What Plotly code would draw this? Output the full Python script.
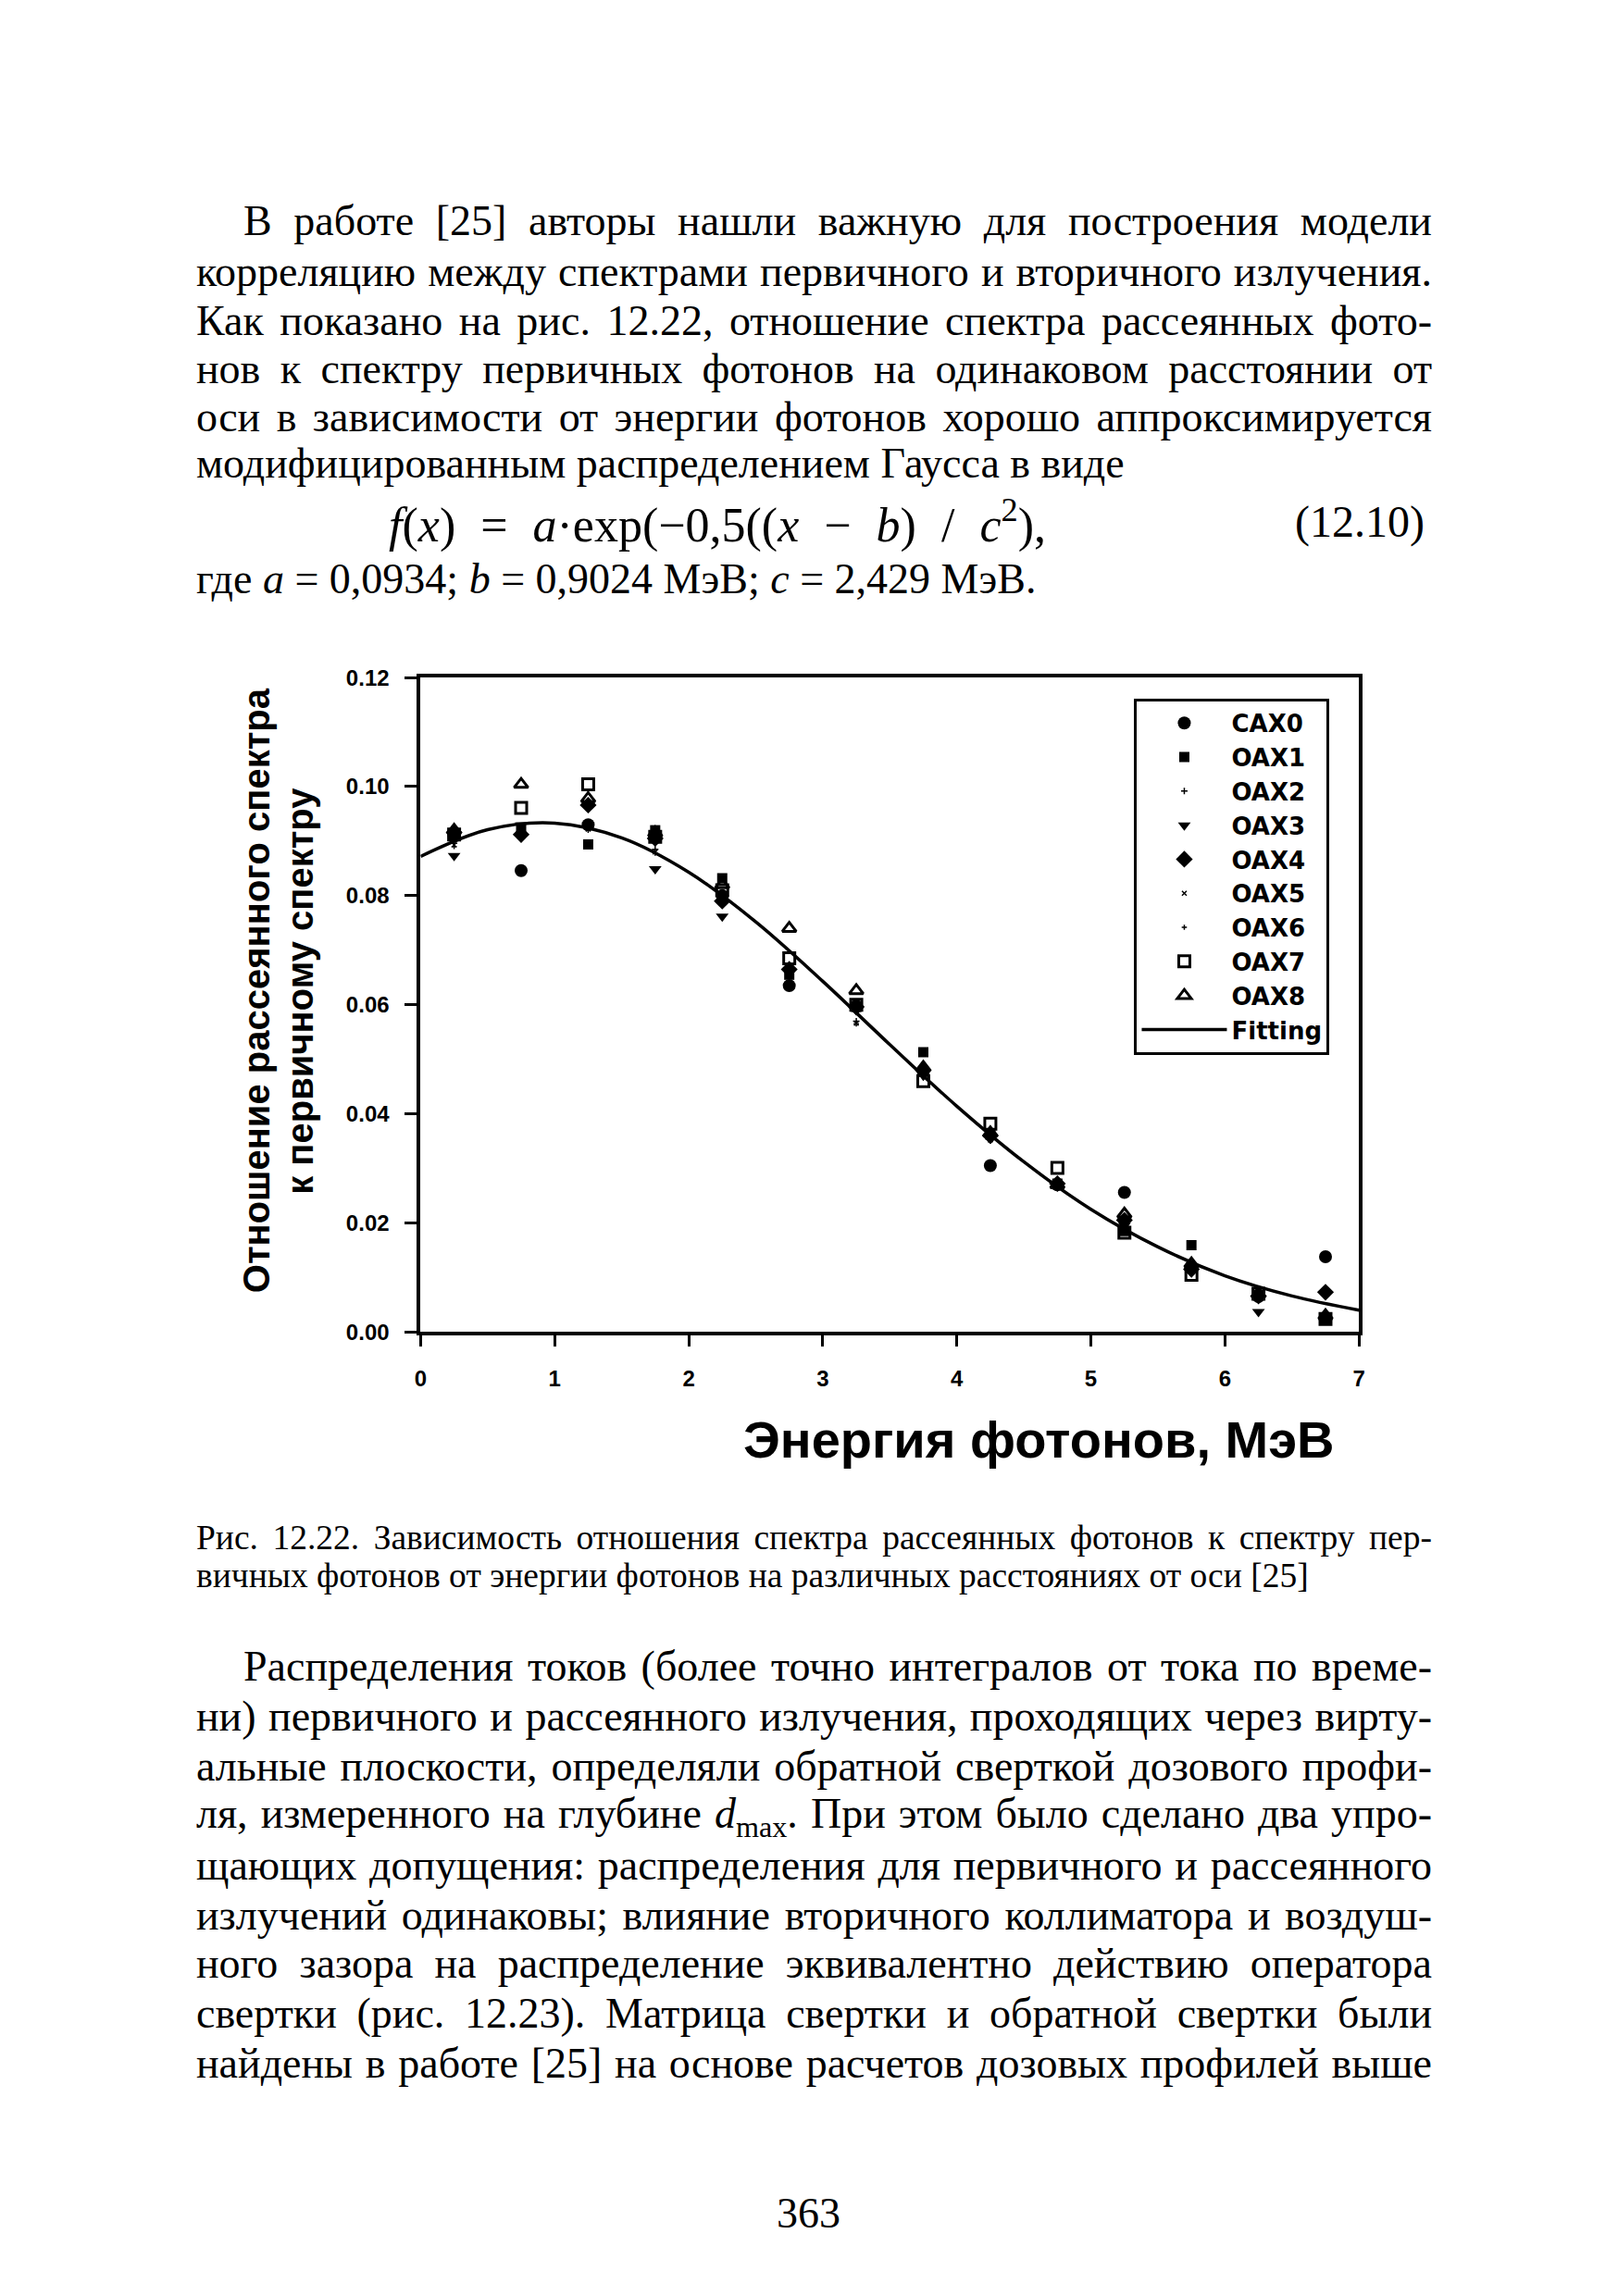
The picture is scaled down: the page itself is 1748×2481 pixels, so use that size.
import json
import plotly.graph_objects as go

W, H = 1748, 2481

# ---------------- data ----------------
energy = [0.25, 0.75, 1.25, 1.75, 2.25, 2.75, 3.25, 3.75, 4.25, 4.75, 5.25, 5.75, 6.25, 6.75]

cax0 = [0.0910, 0.0846, 0.0930, 0.0912, 0.0800, 0.0635, 0.0598, 0.0478, 0.0305, 0.0270, 0.0256, 0.0120, 0.0065, 0.0138]
oax1 = [0.0912, 0.0925, 0.0894, 0.0920, 0.0832, 0.0655, 0.0596, 0.0513, 0.0362, 0.0272, 0.0185, 0.0159, 0.0068, 0.0025]
oax2 = [0.0896, 0.0925, 0.0925, 0.0885, 0.0795, 0.0670, 0.0570, 0.0475, 0.0355, 0.0268, 0.0200, 0.0125, 0.0068, 0.0035]
oax3 = [0.0873, 0.0929, 0.0929, 0.0849, 0.0762, 0.0660, 0.0590, 0.0470, 0.0360, 0.0270, 0.0195, 0.0110, 0.0037, 0.0028]
oax4 = [0.0916, 0.0912, 0.0966, 0.0905, 0.0790, 0.0665, 0.0596, 0.0480, 0.0360, 0.0272, 0.0205, 0.0115, 0.0066, 0.0073]
oax5 = [0.0893, 0.0920, 0.0922, 0.0880, 0.0790, 0.0668, 0.0566, 0.0472, 0.0352, 0.0266, 0.0198, 0.0122, 0.0066, 0.0033]
oax6 = [0.0890, 0.0918, 0.0920, 0.0878, 0.0788, 0.0665, 0.0565, 0.0470, 0.0350, 0.0265, 0.0196, 0.0120, 0.0064, 0.0032]
oax7 = [0.0912, 0.0961, 0.1004, 0.0908, 0.0810, 0.0685, 0.0600, 0.0460, 0.0382, 0.0301, 0.0182, 0.0105, 0.0070, 0.0024]
oax8 = [0.0920, 0.1004, 0.0978, 0.0915, 0.0820, 0.0740, 0.0626, 0.0485, 0.0365, 0.0270, 0.0216, 0.0125, 0.0070, 0.0030]

fit_x = [0.0, 0.5, 1.0, 1.5, 2.0, 2.5, 3.0, 3.5, 4.0, 4.5, 5.0, 5.5, 6.0, 6.5, 7.0]
fit_y = [0.0872, 0.0921, 0.0933, 0.0906, 0.0843, 0.0752, 0.0643, 0.0527, 0.0414, 0.0312, 0.0225, 0.0156, 0.0103, 0.0066, 0.0040]

series_names = ["CAX0", "OAX1", "OAX2", "OAX3", "OAX4", "OAX5", "OAX6", "OAX7", "OAX8"]
series_values = [cax0, oax1, oax2, oax3, oax4, oax5, oax6, oax7, oax8]

x_ticks = [0, 1, 2, 3, 4, 5, 6, 7]
y_ticks = [0.00, 0.02, 0.04, 0.06, 0.08, 0.10, 0.12]

x_title = "Энергия фотонов, МэВ"
y_title_lines = ["Отношение рассеянного спектра", "к первичному спектру"]

para1 = [
    "В работе [25] авторы нашли важную для построения модели",
    "корреляцию между спектрами первичного и вторичного излучения.",
    "Как показано на рис. 12.22, отношение спектра рассеянных фото-",
    "нов к спектру первичных фотонов на одинаковом расстоянии от",
    "оси в зависимости от энергии фотонов хорошо аппроксимируется",
    "модифицированным распределением Гаусса в виде",
]
formula = "<i>f</i>(<i>x</i>) = <i>a</i>·exp(−0,5((<i>x</i> − <i>b</i>) / <i>c</i><sup>2</sup>),"
formula_no = "(12.10)"
where_line = "где <i>a</i> = 0,0934; <i>b</i> = 0,9024 МэВ; <i>c</i> = 2,429 МэВ."
caption = [
    "Рис. 12.22. Зависимость отношения спектра рассеянных фотонов к спектру пер-",
    "вичных фотонов от энергии фотонов на различных расстояниях от оси [25]",
]
para2 = [
    "Распределения токов (более точно интегралов от тока по време-",
    "ни) первичного и рассеянного излучения, проходящих через вирту-",
    "альные плоскости, определяли обратной сверткой дозового профи-",
    "ля, измеренного на глубине <i>d</i><sub>max</sub>. При этом было сделано два упро-",
    "щающих допущения: распределения для первичного и рассеянного",
    "излучений одинаковы; влияние вторичного коллиматора и воздуш-",
    "ного зазора на распределение эквивалентно действию оператора",
    "свертки (рис. 12.23). Матрица свертки и обратной свертки были",
    "найдены в работе [25] на основе расчетов дозовых профилей выше",
]
page_number = "363"

# ---------------- styles ----------------
SERIF = "Liberation Serif, Times New Roman, serif"
SANS = "Liberation Sans, Arial, sans-serif"
LEGF = "DejaVu Sans, Verdana, sans-serif"

marker_styles = {
    "CAX0": dict(symbol="circle", size=14, color="black"),
    "OAX1": dict(symbol="square", size=11, color="black"),
    "OAX2": dict(symbol="cross-thin", size=5, color="black", line=dict(width=1.5, color="black")),
    "OAX3": dict(symbol="triangle-down", size=12, color="black"),
    "OAX4": dict(symbol="diamond", size=14, color="black"),
    "OAX5": dict(symbol="x-thin", size=5, color="black", line=dict(width=1.5, color="black")),
    "OAX6": dict(symbol="cross-thin", size=4, color="black", line=dict(width=1.5, color="black")),
    "OAX7": dict(symbol="square-open", size=12, color="black", line=dict(width=3, color="black")),
    "OAX8": dict(symbol="triangle-up-open", size=13, color="black", line=dict(width=3, color="black")),
}

fig = go.Figure()
for name, vals in zip(series_names, series_values):
    fig.add_trace(go.Scatter(x=energy, y=vals, mode="markers", name=name,
                             legendgroup=name, marker=marker_styles[name]))
fig.add_trace(go.Scatter(x=fit_x, y=fit_y, mode="lines", name="Fitting", legendgroup="fit",
                         line=dict(color="black", width=3.5, shape="spline", smoothing=1.0)))

# plot area in page pixels
px0, px1 = 451, 1473
py_top, py_bot = 726, 1441

fig.update_layout(
    width=W, height=H,
    margin=dict(l=0, r=0, t=0, b=0),
    paper_bgcolor="white", plot_bgcolor="white",
    showlegend=True,
    legend=dict(
        x=1441 / W, y=1 - 749 / H, xanchor="right", yanchor="top",
        bordercolor="black", borderwidth=3, bgcolor="white",
        font=dict(family=LEGF, size=26, color="black", weight="bold"),
        traceorder="grouped", tracegroupgap=0, itemwidth=92,
    ),
    xaxis=dict(
        domain=[px0 / W, px1 / W], range=[0, 7], tickvals=x_ticks,
        ticktext=[str(t) for t in x_ticks],
        showline=True, linewidth=4, linecolor="black", mirror=True,
        ticks="outside", ticklen=12, tickwidth=3, tickcolor="black",
        showgrid=False, zeroline=False, ticklabelstandoff=14,
        tickfont=dict(family=SANS, size=24, color="black", weight="bold"),
        anchor="y",
    ),
    yaxis=dict(
        domain=[1 - py_bot / H, 1 - py_top / H], range=[0, 0.12], tickvals=y_ticks,
        ticktext=["%.2f" % t for t in y_ticks],
        showline=True, linewidth=4, linecolor="black", mirror=True,
        ticks="outside", ticklen=13, tickwidth=3, tickcolor="black",
        showgrid=False, zeroline=False, ticklabelstandoff=12,
        tickfont=dict(family=SANS, size=24, color="black", weight="bold"),
        anchor="x",
    ),
)

annotations = []
justify = []


def add_text(text, x, y, size, family=SERIF, xanchor="left", justify_to=None, **kw):
    d = dict(text=text, x=x / W, y=1 - y / H, xref="paper", yref="paper",
             xanchor=xanchor, yanchor="middle", showarrow=False, align="left",
             font=dict(family=family, size=size, color="black"))
    d.update(kw)
    annotations.append(d)
    if justify_to is not None:
        justify.append([len(annotations) - 1, justify_to - x])


LEFT, RIGHT, INDENT = 205, 1540, 256
BODY = 46

p1_y = [227, 283, 336, 389, 441, 492]
for i, (line, y) in enumerate(zip(para1, p1_y)):
    x = INDENT if i == 0 else LEFT
    add_text(line, x, y, BODY, justify_to=(RIGHT if i < len(para1) - 1 else None))
add_text(formula, 414, 556, 52, justify_to=1124)
add_text(formula_no, 1546, 556, 48, xanchor="right")
add_text(where_line, LEFT, 618, BODY)

cap_y = [1666, 1707]
add_text(caption[0], LEFT, cap_y[0], 37.5, justify_to=RIGHT)
add_text(caption[1], LEFT, cap_y[1], 37.5)

p2_y = [1806, 1861, 1915, 1970, 2024, 2078, 2131, 2185, 2240]
for i, (line, y) in enumerate(zip(para2, p2_y)):
    x = INDENT if i == 0 else LEFT
    add_text(line, x, y, BODY, justify_to=RIGHT)

add_text(page_number, 873, 2404, BODY, xanchor="center")

# axis titles
annotations.append(dict(text=x_title, x=1125 / W, y=1 - 1558 / H, xref="paper", yref="paper",
                        xanchor="center", yanchor="middle", showarrow=False,
                        font=dict(family=SANS, size=56, color="black", weight="bold")))
for line, xc in zip(y_title_lines, [273, 320]):
    annotations.append(dict(text=line, x=xc / W, y=1 - 1068 / H, xref="paper", yref="paper",
                            xanchor="center", yanchor="middle", showarrow=False, textangle=-90,
                            font=dict(family=SANS, size=40, color="black", weight="bold")))

fig.update_layout(annotations=annotations)

post = """
document.body.style.margin = '0';
document.body.style.overflow = 'hidden';
var gd = document.getElementById('{plot_id}');
var J = %s;
J.forEach(function(p){
  var t = gd.querySelector('g.annotation[data-index="' + p[0] + '"] text.annotation-text');
  if (!t) return;
  var n = (t.textContent.match(/ /g) || []).length;
  if (!n) return;
  var w = t.getBBox().width;
  var ws = (p[1] - w) / n;
  t.style.wordSpacing = ws + 'px';
});
""" % json.dumps(justify)

fig.write_html("out.html", post_script=post, config={"displayModeBar": False})
